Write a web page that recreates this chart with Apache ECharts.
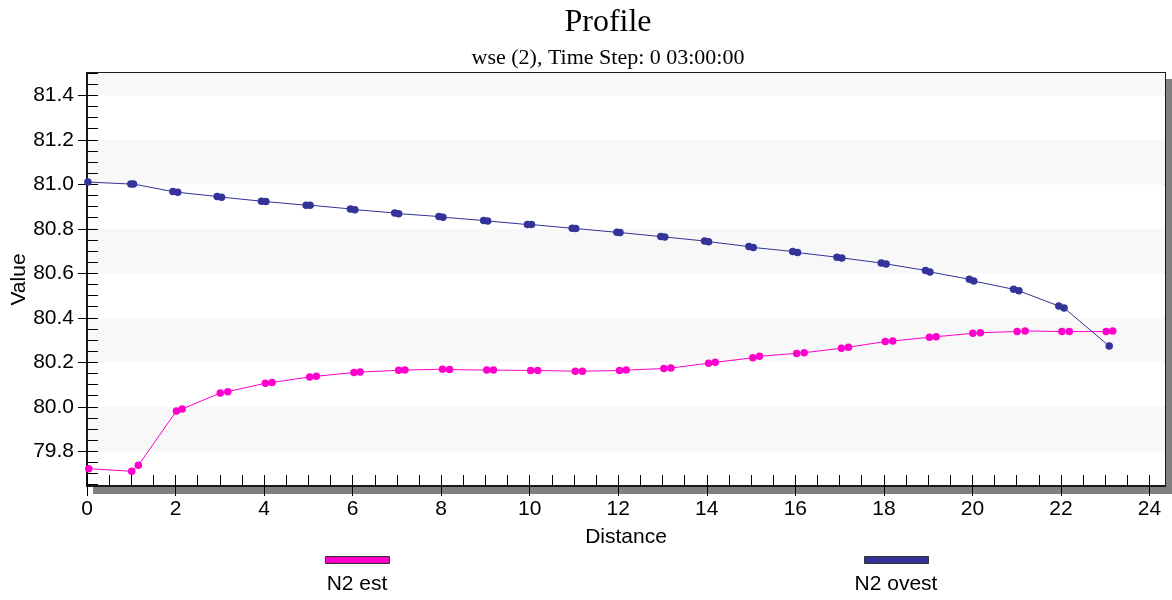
<!DOCTYPE html>
<html>
<head>
<meta charset="utf-8">
<script src="https://cdn.jsdelivr.net/npm/echarts@6/dist/echarts.min.js"></script>
<style>
html,body{margin:0;padding:0;background:#fff;}
#chart{width:1172px;height:600px;}
</style>
</head>
<body>
<div id="chart"></div>
<script>
// ---- data ----
const seriesNames = ['N2 est', 'N2 ovest'];
const estX = [0.04, 1.01,1.16, 2.02,2.15, 3.01,3.18, 4.03,4.18, 5.03,5.18, 6.03,6.17, 7.04,7.18, 8.03,8.19, 9.03,9.18, 10.02,10.18, 11.03,11.19, 12.03,12.18, 13.03,13.19, 14.04,14.19, 15.04,15.19, 16.03,16.20, 17.04,17.20, 18.03,18.20, 19.03,19.18, 20.01,20.18, 21.01,21.19, 22.02,22.19, 23.02,23.17];
const estY = [79.722, 79.710,79.737, 79.981,79.990, 80.062,80.068, 80.106,80.109, 80.134,80.137, 80.154,80.156, 80.164,80.165, 80.169,80.167, 80.165,80.165, 80.163,80.163, 80.160,80.160, 80.163,80.165, 80.172,80.174, 80.196,80.200, 80.220,80.227, 80.240,80.243, 80.263,80.268, 80.293,80.296, 80.312,80.315, 80.330,80.333, 80.338,80.341, 80.338,80.338, 80.338,80.341];
const ovestX = [0.02, 0.99,1.05, 1.94,2.05, 2.94,3.04, 3.94,4.04, 4.95,5.04, 5.95,6.05, 6.95,7.04, 7.95,8.04, 8.96,9.05, 9.95,10.04, 10.96,11.04, 11.97,12.04, 12.96,13.05, 13.95,14.04, 14.95,15.05, 15.94,16.05, 16.94,17.05, 17.94,18.05, 18.94,19.04, 19.93,20.03, 20.93,21.05, 21.95,22.07, 23.09];
const ovestY = [81.010, 81.001,81.001, 80.967,80.964, 80.945,80.942, 80.924,80.922, 80.906,80.906, 80.889,80.886, 80.871,80.868, 80.855,80.852, 80.837,80.835, 80.819,80.819, 80.802,80.801, 80.784,80.783, 80.765,80.763, 80.745,80.742, 80.720,80.716, 80.698,80.693, 80.672,80.669, 80.646,80.642, 80.613,80.606, 80.573,80.565, 80.528,80.521, 80.453,80.444, 80.273];
const xTickLabels = [0, 2, 4, 6, 8, 10, 12, 14, 16, 18, 20, 22, 24];
const yTickLabels = [79.8, 80.0, 80.2, 80.4, 80.6, 80.8, 81.0, 81.2, 81.4];
const xRange = [0, 24.35];
const yRange = [79.644, 81.5];
const titleText = 'Profile';
const subtitleText = 'wse (2), Time Step: 0 03:00:00';
const xName = 'Distance';
const yName = 'Value';

// minor tick positions
const xMinor = [];
for (let i = 0; i <= 48; i++) xMinor.push(i * 0.5);
const yMinor = [];
for (let i = 0; i <= 37; i++) { const v = +(79.65 + i * 0.05).toFixed(2); if (v <= yRange[1]) yMinor.push(v); }

const pink = '#ff00cc';
const blue = '#333399';
const sans = 'Liberation Sans, Arial, sans-serif';
const serif = 'Liberation Serif, Times New Roman, serif';
const axisColor = '#1a1a1a';
const fs = 21;

const zip = (a, b) => a.map((v, i) => [v, b[i]]);

const chart = echarts.init(document.getElementById('chart'), null, {renderer: 'canvas'});
chart.setOption({
  animation: false,
  backgroundColor: '#fff',
  title: {
    text: titleText, subtext: subtitleText,
    left: 608, top: 7, textAlign: 'center', padding: 0, itemGap: 8,
    textStyle: {fontFamily: serif, fontSize: 32, fontWeight: 'normal', color: '#000', lineHeight: 32},
    subtextStyle: {fontFamily: serif, fontSize: 22, color: '#000', lineHeight: 22}
  },
  grid: {
    left: 87, top: 73, width: 1078, height: 413,
    outerBoundsMode: 'none', containLabel: false,
    show: true, backgroundColor: '#fff', borderColor: axisColor, borderWidth: 2,
    shadowColor: '#808080', shadowBlur: 0, shadowOffsetX: 7, shadowOffsetY: 7
  },
  legend: [
    {data: [seriesNames[0]], left: 325, top: 556, padding: 0, itemWidth: 64, itemHeight: 7, icon: 'rect',
     formatter: () => '', itemStyle: {borderColor: '#333', borderWidth: 1}, selectedMode: false},
    {data: [seriesNames[1]], left: 864, top: 556, padding: 0, itemWidth: 64, itemHeight: 7, icon: 'rect',
     formatter: () => '', itemStyle: {borderColor: '#333', borderWidth: 1}, selectedMode: false}
  ],
  graphic: [
    {type: 'text', x: 357, y: 584, style: {text: seriesNames[0], fontFamily: sans, fontSize: fs, fill: '#000', align: 'center', verticalAlign: 'middle'}},
    {type: 'text', x: 896, y: 584, style: {text: seriesNames[1], fontFamily: sans, fontSize: fs, fill: '#000', align: 'center', verticalAlign: 'middle'}}
  ],
  xAxis: [
    {type: 'value', min: xRange[0], max: xRange[1], position: 'bottom',
     name: xName, nameLocation: 'middle', nameGap: 41, nameMoveOverlap: false,
     nameTextStyle: {fontFamily: sans, fontSize: fs, color: '#000'},
     axisLine: {show: true, lineStyle: {color: axisColor, width: 2}},
     axisTick: {show: true, inside: false, length: 10, customValues: xTickLabels, lineStyle: {color: '#000', width: 1}},
     axisLabel: {show: true, customValues: xTickLabels, margin: 13, fontFamily: sans, fontSize: fs, color: '#000',
       showMinLabel: true, showMaxLabel: true, formatter: v => String(v)},
     splitLine: {show: false}},
    {type: 'value', min: xRange[0], max: xRange[1], position: 'bottom', gridIndex: 0,
     axisLine: {show: false},
     axisTick: {show: true, inside: true, length: 11, customValues: xMinor, lineStyle: {color: '#000', width: 1}},
     axisLabel: {show: false}, splitLine: {show: false}}
  ],
  yAxis: [
    {type: 'value', min: yRange[0], max: yRange[1], position: 'left',
     name: yName, nameLocation: 'middle', nameGap: 57, nameRotate: 90, nameMoveOverlap: false,
     nameTextStyle: {fontFamily: sans, fontSize: fs, color: '#000'},
     axisLine: {show: true, lineStyle: {color: axisColor, width: 2}},
     axisTick: {show: true, inside: false, length: 9, customValues: yTickLabels, lineStyle: {color: '#000', width: 1}},
     axisLabel: {show: true, customValues: yTickLabels, margin: 13, fontFamily: sans, fontSize: fs, color: '#000',
       formatter: v => v.toFixed(1)},
     splitLine: {show: false}, splitArea: {show: false}},
    {type: 'value', min: yRange[0], max: yRange[1], position: 'left',
     axisLine: {show: false},
     axisTick: {show: true, inside: true, length: 11, customValues: yMinor, lineStyle: {color: '#000', width: 1}},
     axisLabel: {show: false}, splitLine: {show: false}},
    {type: 'value', min: yRange[0], max: yRange[1], position: 'right', splitNumber: 9,
     axisLine: {show: false}, axisTick: {show: false}, axisLabel: {show: false},
     splitLine: {show: false},
     splitArea: {show: true, areaStyle: {color: ['#ffffff', '#f8f8f8']}}}
  ],
  series: [
    {name: seriesNames[0], type: 'line', xAxisIndex: 0, yAxisIndex: 0, data: zip(estX, estY),
     symbol: 'circle', symbolSize: 7.5, showSymbol: true, clip: false,
     itemStyle: {color: pink}, lineStyle: {color: pink, width: 1}, z: 3},
    {name: seriesNames[1], type: 'line', xAxisIndex: 0, yAxisIndex: 0, data: zip(ovestX, ovestY),
     symbol: 'circle', symbolSize: 7.5, showSymbol: true, clip: false,
     itemStyle: {color: blue}, lineStyle: {color: blue, width: 1}, z: 3}
  ]
});
</script>
</body>
</html>
